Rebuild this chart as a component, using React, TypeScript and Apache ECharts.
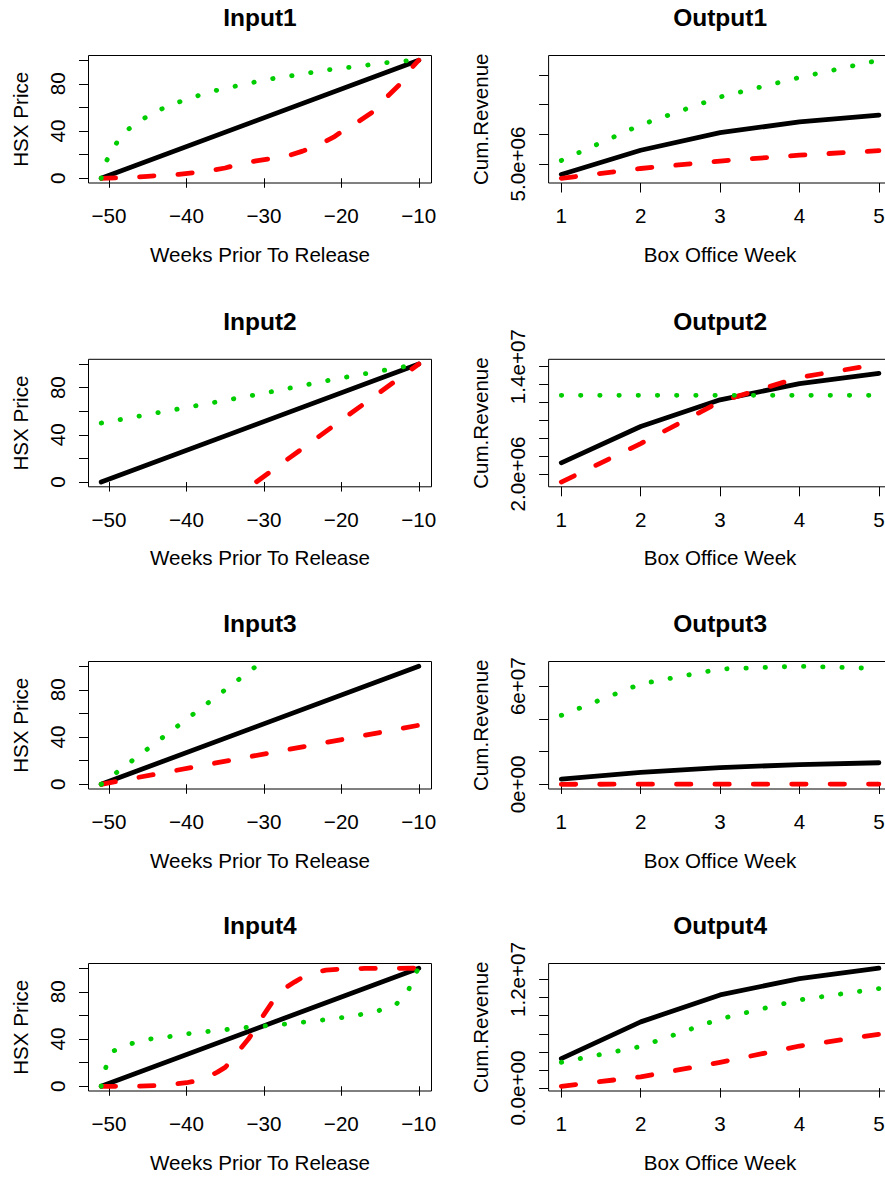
import React, { useEffect, useRef } from "react";
import * as echarts from "echarts";

type Pt = [number, number];

const FONT = '"Liberation Sans", Arial, Helvetica, sans-serif';
const BASE_SIZE = 20.6;
const TITLE_SIZE = 24.5;

// ---------- Input panels: HSX price vs weeks prior to release ----------
const weekRange = [-51, -10];
const weekTickValues = [-50, -40, -30, -20, -10];
const weekTickLabels = ["\u221250", "\u221240", "\u221230", "\u221220", "\u221210"];
const priceRange = [0, 100];
const priceTickValues = [0, 20, 40, 60, 80, 100];
const priceLabelValues = [0, 40, 80];
const priceLabelTexts = ["0", "40", "80"];

const input1Black: Pt[] = [[-51, 0], [-10, 100]];
const input1Red: Pt[] = [
  [-51, 0], [-49, 0.3], [-47, 0.8], [-45, 1.7], [-43, 2.6], [-41, 3.3], [-39, 4.8],
  [-37, 6.5], [-35, 8.7], [-33, 12.4], [-31, 14.7], [-29, 16.8], [-27, 18.8], [-25, 23],
  [-23, 28], [-21, 34.8], [-20, 39.3], [-18, 47.1], [-16, 56], [-14, 69.6], [-12, 82.5],
  [-11, 93], [-10, 100],
];
const input1Green: Pt[] = [
  [-51, 0], [-50.3, 15], [-49, 30], [-47.4, 42], [-45.4, 51], [-43.1, 59], [-40.8, 65],
  [-38.5, 70], [-36.1, 74.5], [-33.7, 78], [-31.2, 81.5], [-28.8, 84.5], [-26.3, 87],
  [-23.9, 89.5], [-21.5, 92], [-19, 94], [-16.5, 96], [-14.1, 98], [-11.6, 99.5], [-10, 100],
];

const input2Black: Pt[] = [[-51, 0], [-10, 100]];
const input2Red: Pt[] = [[-51, -95.2], [-10, 100]];
const input2Green: Pt[] = [[-51, 50], [-41, 62], [-31, 74], [-21, 87], [-10, 100]];

const input3Black: Pt[] = [[-51, 0], [-10, 100]];
const input3Red: Pt[] = [[-51, 0], [-10, 50]];
const input3Green: Pt[] = [[-51, 0], [-10, 205]];

const input4Black: Pt[] = [[-51, 0], [-10, 100]];
const input4Red: Pt[] = [
  [-51, 0], [-47, 0], [-44, 0.5], [-42, 1.5], [-40, 3], [-38, 5.5], [-36, 12], [-35, 16],
  [-34, 23], [-33, 32], [-32, 40], [-31, 49.8], [-30, 60.7], [-29, 70.5], [-28, 78],
  [-27, 84.3], [-26, 88.5], [-25, 92.3], [-24, 95], [-23, 97], [-22, 98.3], [-20, 99.4],
  [-17, 99.8], [-10, 100],
];
const input4Green: Pt[] = [
  [-51, 0], [-50.4, 16], [-49.4, 30], [-47.2, 36], [-44.7, 40], [-42.3, 42], [-39.8, 44.5],
  [-37.4, 46.3], [-34.9, 48], [-32.5, 49.7], [-30, 51], [-27.5, 52.5], [-25, 54.2],
  [-22.6, 56], [-20.1, 58], [-17.7, 60.5], [-15.2, 64], [-12.9, 69.5], [-11.3, 82],
  [-10.3, 97], [-10, 100],
];

// ---------- Output panels: cumulative revenue vs box office week ----------
const boxOfficeWeeks = [1, 2, 3, 4, 5];
const boxOfficeWeekLabels = ["1", "2", "3", "4", "5"];

const output1Black = [3.25e6, 7.32e6, 10.3e6, 12.1e6, 13.25e6];
const output1Red = [2.6e6, 4.25e6, 5.5e6, 6.5e6, 7.25e6];
const output1Green = [5.6e6, 11.6e6, 16.3e6, 19.6e6, 22.5e6];
const output1RevTicks = [5e6, 1e7, 1.5e7, 2e7];
const output1RevLabelValues = [5e6];
const output1RevLabelTexts = ["5.0e+06"];

const output2Black = [3.25e6, 7.32e6, 10.3e6, 12.1e6, 13.25e6];
const output2Red = [1.1e6, 5.4e6, 10.1e6, 12.8e6, 14.3e6];
const output2Green = [10.8e6, 10.8e6, 10.8e6, 10.8e6, 10.8e6];
const output2RevTicks = [2e6, 4e6, 6e6, 8e6, 1e7, 1.2e7, 1.4e7];
const output2RevLabelValues = [2e6, 1.4e7];
const output2RevLabelTexts = ["2.0e+06", "1.4e+07"];

const output3Black = [3.25e6, 7.32e6, 10.3e6, 12.1e6, 13.25e6];
const output3Red = [0.1e6, 0.15e6, 0.18e6, 0.2e6, 0.21e6];
const output3Green = [4.22e7, 6.14e7, 7.05e7, 7.22e7, 7.08e7];
const output3RevTicks = [0, 2e7, 4e7, 6e7];
const output3RevLabelValues = [0, 6e7];
const output3RevLabelTexts = ["0e+00", "6e+07"];

const output4Black = [3.25e6, 7.32e6, 10.3e6, 12.1e6, 13.25e6];
const output4Red = [0.2e6, 1.25e6, 2.85e6, 4.65e6, 5.95e6];
const output4Green = [2.85e6, 4.6e6, 7.65e6, 9.75e6, 11e6];
const output4RevTicks = [0, 2e6, 4e6, 6e6, 8e6, 1e7, 1.2e7];
const output4RevLabelValues = [0, 1.2e7];
const output4RevLabelTexts = ["0.0e+00", "1.2e+07"];

// ---------- layout ----------
const COL_LEFT = [88.5, 548.6];
const PLOT_W = 343;
const ROW_TOP = [55.5, 359.3, 661.5, 963.5];
const PLOT_H = 127.5;

const pad = (lo: number, hi: number): [number, number] => {
  const d = (hi - lo) * 0.04;
  return [lo - d, hi + d];
};

const makeFormatter = (values: number[], texts: string[]) => (v: number) => {
  const i = values.findIndex((x) => Math.abs(x - v) <= Math.abs(x) * 1e-9 + 1e-9);
  return i >= 0 ? texts[i] : "";
};

const zip = (xs: number[], ys: number[]): Pt[] => xs.map((x, i) => [x, ys[i]]);

type Panel = {
  title: string;
  row: number;
  col: number;
  xName: string;
  yName: string;
  xRange: [number, number];
  yRange: [number, number];
  xTicks: number[];
  xLabelValues: number[];
  xLabelTexts: string[];
  yTicks: number[];
  yLabelValues: number[];
  yLabelTexts: string[];
  black: Pt[];
  red: Pt[];
  green: Pt[];
};

const inputPanel = (title: string, row: number, black: Pt[], red: Pt[], green: Pt[]): Panel => ({
  title,
  row,
  col: 0,
  xName: "Weeks Prior To Release",
  yName: "HSX Price",
  xRange: pad(weekRange[0], weekRange[1]),
  yRange: pad(priceRange[0], priceRange[1]),
  xTicks: weekTickValues,
  xLabelValues: weekTickValues,
  xLabelTexts: weekTickLabels,
  yTicks: priceTickValues,
  yLabelValues: priceLabelValues,
  yLabelTexts: priceLabelTexts,
  black,
  red,
  green,
});

const outputPanel = (
  title: string,
  row: number,
  black: number[],
  red: number[],
  green: number[],
  ticks: number[],
  labelValues: number[],
  labelTexts: string[]
): Panel => {
  const all = [...black, ...red, ...green];
  return {
    title,
    row,
    col: 1,
    xName: "Box Office Week",
    yName: "Cum.Revenue",
    xRange: pad(boxOfficeWeeks[0], boxOfficeWeeks[boxOfficeWeeks.length - 1]),
    yRange: pad(Math.min(...all), Math.max(...all)),
    xTicks: boxOfficeWeeks,
    xLabelValues: boxOfficeWeeks,
    xLabelTexts: boxOfficeWeekLabels,
    yTicks: ticks,
    yLabelValues: labelValues,
    yLabelTexts: labelTexts,
    black: zip(boxOfficeWeeks, black),
    red: zip(boxOfficeWeeks, red),
    green: zip(boxOfficeWeeks, green),
  };
};

const panels: Panel[] = [
  inputPanel("Input1", 0, input1Black, input1Red, input1Green),
  outputPanel("Output1", 0, output1Black, output1Red, output1Green, output1RevTicks, output1RevLabelValues, output1RevLabelTexts),
  inputPanel("Input2", 1, input2Black, input2Red, input2Green),
  outputPanel("Output2", 1, output2Black, output2Red, output2Green, output2RevTicks, output2RevLabelValues, output2RevLabelTexts),
  inputPanel("Input3", 2, input3Black, input3Red, input3Green),
  outputPanel("Output3", 2, output3Black, output3Red, output3Green, output3RevTicks, output3RevLabelValues, output3RevLabelTexts),
  inputPanel("Input4", 3, input4Black, input4Red, input4Green),
  outputPanel("Output4", 3, output4Black, output4Red, output4Green, output4RevTicks, output4RevLabelValues, output4RevLabelTexts),
];

const LW = 4.8;
const textStyle = { color: "#000", fontSize: BASE_SIZE, fontFamily: FONT };

function buildOption() {
  const grid: any[] = [];
  const xAxis: any[] = [];
  const yAxis: any[] = [];
  const series: any[] = [];
  const graphic: any[] = [];

  panels.forEach((p, i) => {
    const left = COL_LEFT[p.col];
    const top = ROW_TOP[p.row];
    grid.push({
      left,
      top,
      width: PLOT_W,
      height: PLOT_H,
      show: true,
      borderColor: "#000",
      borderWidth: 1,
      backgroundColor: "transparent",
      containLabel: false,
      outerBoundsMode: "none",
    });
    xAxis.push({
      type: "value",
      gridIndex: i,
      min: p.xRange[0],
      max: p.xRange[1],
      axisLine: { show: false },
      splitLine: { show: false },
      axisTick: {
        show: true,
        inside: false,
        length: 9.5,
        customValues: p.xTicks,
        lineStyle: { color: "#000", width: 1 },
      },
      axisLabel: {
        show: true,
        customValues: p.xLabelValues,
        formatter: makeFormatter(p.xLabelValues, p.xLabelTexts),
        margin: 22.4,
        alignMinLabel: "center",
        alignMaxLabel: "center",
        hideOverlap: false,
        ...textStyle,
      },
      name: p.xName,
      nameLocation: "middle",
      nameGap: 60.5,
      nameMoveOverlap: false,
      nameTextStyle: { ...textStyle },
    });
    yAxis.push({
      type: "value",
      gridIndex: i,
      min: p.yRange[0],
      max: p.yRange[1],
      axisLine: { show: false },
      splitLine: { show: false },
      axisTick: {
        show: true,
        inside: false,
        length: 9.5,
        customValues: p.yTicks,
        lineStyle: { color: "#000", width: 1 },
      },
      axisLabel: {
        show: true,
        rotate: 90,
        customValues: p.yLabelValues,
        formatter: makeFormatter(p.yLabelValues, p.yLabelTexts),
        margin: 21,
        alignMinLabel: "center",
        alignMaxLabel: "center",
        hideOverlap: false,
        ...textStyle,
      },
      name: p.yName,
      nameLocation: "middle",
      nameGap: 58,
      nameMoveOverlap: false,
      nameTextStyle: { ...textStyle },
    });
    const common = {
      type: "line",
      xAxisIndex: i,
      yAxisIndex: i,
      showSymbol: false,
      symbol: "none",
      clip: true,
      smooth: false,
      silent: true,
    };
    series.push({
      ...common,
      name: p.title + " solid",
      data: p.black,
      lineStyle: { color: "#000000", width: LW, type: "solid", cap: "round", join: "round" },
    });
    series.push({
      ...common,
      name: p.title + " dashed",
      data: p.red,
      lineStyle: { color: "#FF0000", width: LW, type: [14.4, 24], cap: "round", join: "round" },
    });
    series.push({
      ...common,
      name: p.title + " dotted",
      data: p.green,
      lineStyle: { color: "#00CD00", width: LW, type: [0.4, 18.8], cap: "round", join: "round" },
    });
    graphic.push({
      type: "text",
      x: left + PLOT_W / 2,
      y: top - 37.8,
      style: {
        text: p.title,
        font: `bold ${TITLE_SIZE}px ${FONT}`,
        fill: "#000",
        textAlign: "center",
        textVerticalAlign: "middle",
        align: "center",
        verticalAlign: "middle",
      },
    });
  });

  return {
    animation: false,
    backgroundColor: "#ffffff",
    grid,
    xAxis,
    yAxis,
    series,
    graphic,
  };
}

export default function App() {
  const ref = useRef<HTMLDivElement>(null);
  useEffect(() => {
    if (!ref.current) return;
    const chart = echarts.init(ref.current, null, { renderer: "svg" });
    chart.setOption(buildOption() as any);
    return () => {
      chart.dispose();
    };
  }, []);
  return (
    <div
      ref={ref}
      style={{
        position: "absolute",
        left: 0,
        top: 0,
        width: 885,
        height: 1177,
        background: "#fff",
        overflow: "hidden",
      }}
    />
  );
}
